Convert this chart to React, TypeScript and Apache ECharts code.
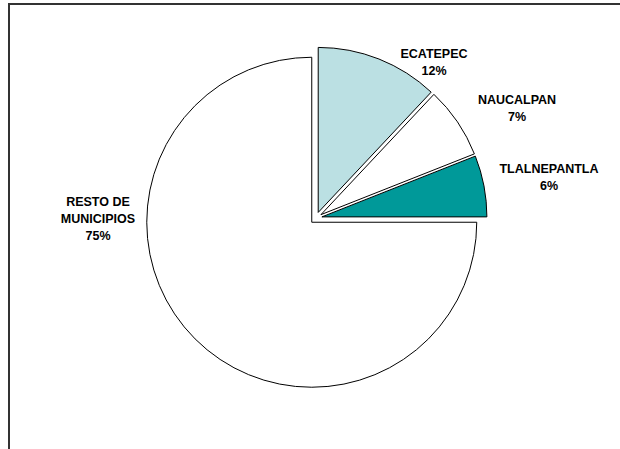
import React, { useEffect, useRef } from "react";
import * as echarts from "echarts";

const categories = ["ECATEPEC", "NAUCALPAN", "TLALNEPANTLA", "RESTO DE\nMUNICIPIOS"];
const values = [12, 7, 6, 75];
const colors = ["#BBE0E3", "#FFFFFF", "#009999", "#FFFFFF"];
const labelPositions = [
  [434, 62],
  [517, 108],
  [549, 177],
  [98, 219],
];

export default function App() {
  const ref = useRef<HTMLDivElement>(null);
  useEffect(() => {
    if (!ref.current) return;
    const chart = echarts.init(ref.current, null, { renderer: "svg" });
    const labels = categories.map((name, i) => ({
      type: "text",
      x: labelPositions[i][0],
      y: labelPositions[i][1],
      silent: true,
      style: {
        text: `${name}\n${values[i]}%`,
        fontFamily: "Liberation Sans, Arial, sans-serif",
        fontWeight: "bold",
        fontSize: 12.5,
        lineHeight: 17,
        fill: "#000000",
        align: "center",
        verticalAlign: "middle",
      },
    }));
    chart.setOption({
      animation: false,
      backgroundColor: "#FFFFFF",
      graphic: [
        {
          type: "rect",
          shape: { x: 9, y: 4, width: 700, height: 520 },
          style: { fill: "none", stroke: "#333333", lineWidth: 2 },
          silent: true,
        },
        ...labels,
      ],
      series: [
        {
          type: "pie",
          center: [316, 218],
          radius: 165,
          startAngle: 90,
          clockwise: true,
          selectedMode: "multiple",
          selectedOffset: 6,
          emphasis: { disabled: true },
          itemStyle: { borderColor: "#000000", borderWidth: 1 },
          label: { show: false },
          labelLine: { show: false },
          data: categories.map((name, i) => ({
            name,
            value: values[i],
            selected: true,
            itemStyle: { color: colors[i] },
          })),
        },
      ],
    });
    return () => chart.dispose();
  }, []);
  return (
    <div
      ref={ref}
      style={{ position: "absolute", left: 0, top: 0, width: 620, height: 449 }}
    />
  );
}
